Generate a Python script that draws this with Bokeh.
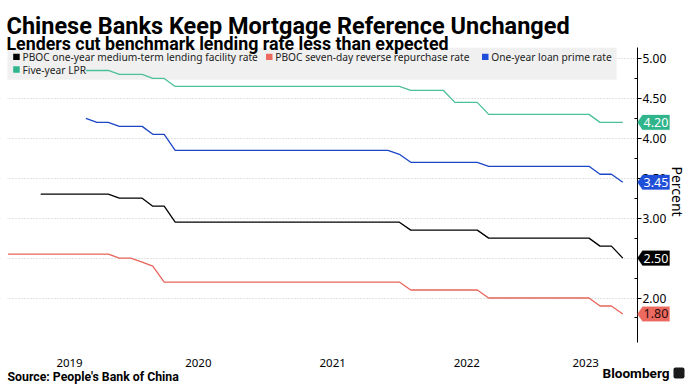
import math
import numpy as np
import pandas as pd
from bokeh.plotting import figure
from bokeh.models import (Range1d, FixedTicker, CustomJSTickFormatter, NumeralTickFormatter,
                          Label, BoxAnnotation, PolyAnnotation, ColumnDataSource)
from bokeh.embed import file_html
from bokeh.resources import INLINE

nan = np.nan

# ---------------- data (monthly, Jan 2019 - Aug 2023) ----------------
months = pd.period_range("2019-01", "2023-08", freq="M").to_timestamp(how="end").normalize()

mlf = [nan, nan, nan, 3.30, 3.30, 3.30, 3.30, 3.30, 3.30, 3.30, 3.25, 3.25,   # 2019
       3.25, 3.15, 3.15, 2.95, 2.95, 2.95, 2.95, 2.95, 2.95, 2.95, 2.95, 2.95,  # 2020
       2.95, 2.95, 2.95, 2.95, 2.95, 2.95, 2.95, 2.95, 2.95, 2.95, 2.95, 2.95,  # 2021
       2.85, 2.85, 2.85, 2.85, 2.85, 2.85, 2.85, 2.75, 2.75, 2.75, 2.75, 2.75,  # 2022
       2.75, 2.75, 2.75, 2.75, 2.75, 2.65, 2.65, 2.50]                          # 2023

repo = [2.55, 2.55, 2.55, 2.55, 2.55, 2.55, 2.55, 2.55, 2.55, 2.55, 2.50, 2.50,
        2.45, 2.40, 2.20, 2.20, 2.20, 2.20, 2.20, 2.20, 2.20, 2.20, 2.20, 2.20,
        2.20, 2.20, 2.20, 2.20, 2.20, 2.20, 2.20, 2.20, 2.20, 2.20, 2.20, 2.20,
        2.10, 2.10, 2.10, 2.10, 2.10, 2.10, 2.10, 2.00, 2.00, 2.00, 2.00, 2.00,
        2.00, 2.00, 2.00, 2.00, 2.00, 1.90, 1.90, 1.80]

lpr1 = [nan, nan, nan, nan, nan, nan, nan, 4.25, 4.20, 4.20, 4.15, 4.15,
        4.15, 4.05, 4.05, 3.85, 3.85, 3.85, 3.85, 3.85, 3.85, 3.85, 3.85, 3.85,
        3.85, 3.85, 3.85, 3.85, 3.85, 3.85, 3.85, 3.85, 3.85, 3.85, 3.85, 3.80,
        3.70, 3.70, 3.70, 3.70, 3.70, 3.70, 3.70, 3.65, 3.65, 3.65, 3.65, 3.65,
        3.65, 3.65, 3.65, 3.65, 3.65, 3.55, 3.55, 3.45]

lpr5 = [nan, nan, nan, nan, nan, nan, nan, 4.85, 4.85, 4.85, 4.80, 4.80,
        4.80, 4.75, 4.75, 4.65, 4.65, 4.65, 4.65, 4.65, 4.65, 4.65, 4.65, 4.65,
        4.65, 4.65, 4.65, 4.65, 4.65, 4.65, 4.65, 4.65, 4.65, 4.65, 4.65, 4.65,
        4.60, 4.60, 4.60, 4.60, 4.45, 4.45, 4.45, 4.30, 4.30, 4.30, 4.30, 4.30,
        4.30, 4.30, 4.30, 4.30, 4.30, 4.20, 4.20, 4.20]

series_names = ["PBOC one-year medium-term lending facility rate",
                "PBOC seven-day reverse repurchase rate",
                "One-year loan prime rate",
                "Five-year LPR"]
series_values = [mlf, repo, lpr1, lpr5]

y_major = [2.0, 2.5, 3.0, 3.5, 4.0, 4.5, 5.0]
y_minor = [1.75, 2.25, 2.75, 3.25, 3.75, 4.25, 4.75]
years = [2019, 2020, 2021, 2022, 2023]

title = "Chinese Banks Keep Mortgage Reference Unchanged"
subtitle = "Lenders cut benchmark lending rate less than expected"
source_text = "Source: People's Bank of China"
y_title = "Percent"
brand = "Bloomberg"

# ---------------- styles / layout ----------------
line_colors = ["#000000", "#e8645a", "#1b46c6", "#4cbf9c"]
flag_colors = ["#000000", "#ec6a5f", "#1f4fd8", "#2fb48c"]
flag_text_colors = ["white", "#2a0a0a", "white", "white"]
HEAD = "Roboto"
SANS = "Noto Sans"

W, H = 690, 386            # canvas; the frame covers the whole canvas
X_FIRST_PX, X_LAST_PX = 7.5, 622.3   # pixel x of first / last month
Y5_PX, Y2_PX = 58.0, 297.5           # pixel y of 5.00 and 2.00
AXIS_PX = 637.0                      # pixel x of the value axis line
TOP_PX, BOTTOM_PX = 46.7, 342.0      # vertical extent of the plotting area

t_first = months[0].value / 1e6
t_last = months[-1].value / 1e6
ms_per_px = (t_last - t_first) / (X_LAST_PX - X_FIRST_PX)
x_start = t_first - X_FIRST_PX * ms_per_px
x_end = x_start + W * ms_per_px
def px_to_t(px):
    return x_start + px * ms_per_px

upp = (5.0 - 2.0) / (Y2_PX - Y5_PX)
y_end = 5.0 + Y5_PX * upp
y_start = y_end - H * upp
def py_to_v(py):
    return y_end - py * upp

def fy(iy):  # image y -> frame screen y (from bottom)
    return H - iy

src = ColumnDataSource(dict(date=months, mlf=mlf, repo=repo, lpr1=lpr1, lpr5=lpr5))
cols = ["mlf", "repo", "lpr1", "lpr5"]

p = figure(width=W, height=H, x_axis_type="datetime", y_axis_location="right",
           output_backend="svg", toolbar_location=None,
           x_range=Range1d(x_start, x_end), y_range=Range1d(y_start, y_end),
           min_border=0, min_border_left=0, min_border_right=0,
           min_border_top=0, min_border_bottom=0)
p.outline_line_color = None
p.background_fill_color = "white"
p.border_fill_color = "white"

# grid
p.xgrid.visible = False
p.ygrid.grid_line_color = "#c4c4c4"
p.ygrid.grid_line_dash = "1 2"
p.ygrid.level = "image"

# y axis drawn at a fixed location (right of the data)
yax = p.yaxis[0]
yax.fixed_location = px_to_t(AXIS_PX)
yax.bounds = (py_to_v(BOTTOM_PX), py_to_v(TOP_PX))
yax.ticker = FixedTicker(ticks=y_major, minor_ticks=y_minor)
yax.formatter = NumeralTickFormatter(format="0.00")
yax.axis_line_color = "black"
yax.major_tick_line_color = "black"
yax.minor_tick_line_color = "black"
yax.major_tick_out = 4
yax.major_tick_in = 0
yax.minor_tick_in = 3
yax.minor_tick_out = 0
yax.major_label_standoff = 1
yax.major_label_text_font = SANS
yax.major_label_text_font_size = "12px"
yax.major_label_text_color = "black"

# x axis: year labels centred on the visible part of each year
t_axis = px_to_t(AXIS_PX)
def year_mid(y):
    a = max(pd.Timestamp(f"{y}-01-01").value / 1e6, t_first)
    b = min(pd.Timestamp(f"{y+1}-01-01").value / 1e6, t_axis)
    return (a + b) / 2

xax = p.xaxis[0]
xax.fixed_location = py_to_v(BOTTOM_PX)
xax.ticker = FixedTicker(ticks=[year_mid(y) for y in years])
xax.formatter = CustomJSTickFormatter(code="return String(new Date(tick).getUTCFullYear());")
xax.axis_line_color = None
xax.major_tick_line_color = None
xax.minor_tick_line_color = None
xax.major_label_standoff = 10
xax.major_label_text_font = SANS
xax.major_label_text_font_size = "11.5px"
xax.major_label_text_color = "black"

def sbox(l, r, t, b, color, level):
    return BoxAnnotation(left=l, right=r, top=t, bottom=b,
                         left_units="screen", right_units="screen",
                         top_units="screen", bottom_units="screen",
                         fill_color=color, fill_alpha=1, line_color=None, level=level)

# keep grid lines within the plotting area
p.add_layout(sbox(AXIS_PX, W, H, 0, "white", "underlay"))
p.add_layout(sbox(0, 7, H, 0, "white", "underlay"))
# legend background (above grid, under lines)
p.add_layout(sbox(7, 616, fy(47.3), fy(79.3), "#f0f0f0", "underlay"))

for c, col in zip(cols, line_colors):
    p.line(x="date", y=c, source=src, line_color=col, line_width=1.3)

# legend entries
leg_pos = [(12.7, 56.4), (265.5, 56.4), (481.5, 56.4), (12.7, 69.0)]
for (lx, ly), name, fc in zip(leg_pos, series_names, flag_colors):
    p.add_layout(sbox(lx, lx + 6.5, fy(ly - 3.2), fy(ly + 3.2), fc, "annotation"))
    p.add_layout(Label(x=lx + 9.3, y=fy(ly), x_units="screen", y_units="screen", text=name,
                       text_font=SANS, text_font_size="10.2px", text_color="#222222",
                       text_baseline="middle", text_align="left"))

# end-value flags
dh = 7.3 * upp
for vals, fc, tc in zip(series_values, flag_colors, flag_text_colors):
    v = vals[-1]
    p.add_layout(PolyAnnotation(xs=[AXIS_PX, AXIS_PX + 5, 669, 669, AXIS_PX + 5],
                                ys=[v, v + dh, v + dh, v - dh, v - dh],
                                xs_units="screen", ys_units="data",
                                fill_color=fc, fill_alpha=1, line_color=fc, line_width=1,
                                level="annotation"))
    p.add_layout(Label(x=655.5, y=v, x_units="screen", y_units="data",
                       text=f"{v:.2f}", text_font=SANS, text_font_size="12.5px",
                       text_color=tc, text_align="center", text_baseline="middle"))

# axis title
p.add_layout(Label(x=677, y=fy(191), x_units="screen", y_units="screen", text=y_title,
                   angle=-math.pi / 2, text_font=SANS, text_font_size="14px",
                   text_color="black", text_align="center", text_baseline="middle"))

# headline
p.add_layout(Label(x=6, y=fy(25.5), x_units="screen", y_units="screen", text=title,
                   text_font=HEAD, text_font_style="bold", text_font_size="23.5px",
                   text_color="black", text_baseline="alphabetic"))
p.add_layout(Label(x=6, y=fy(43), x_units="screen", y_units="screen", text=subtitle,
                   text_font=HEAD, text_font_style="bold", text_font_size="17.8px",
                   text_color="black", text_baseline="alphabetic"))

# footer
p.add_layout(Label(x=7, y=fy(376), x_units="screen", y_units="screen", text=source_text,
                   text_font=HEAD, text_font_style="bold", text_font_size="12.3px",
                   text_color="black", text_baseline="middle"))
p.add_layout(Label(x=602, y=fy(372.5), x_units="screen", y_units="screen", text=brand,
                   text_font=HEAD, text_font_style="bold", text_font_size="13.6px",
                   text_color="black", text_baseline="middle"))
logo = sbox(673, 684, fy(367), fy(378), "#1a1a1a", "annotation")
logo.border_radius = 2
p.add_layout(logo)

open("out.html", "w").write(file_html(p, INLINE))
